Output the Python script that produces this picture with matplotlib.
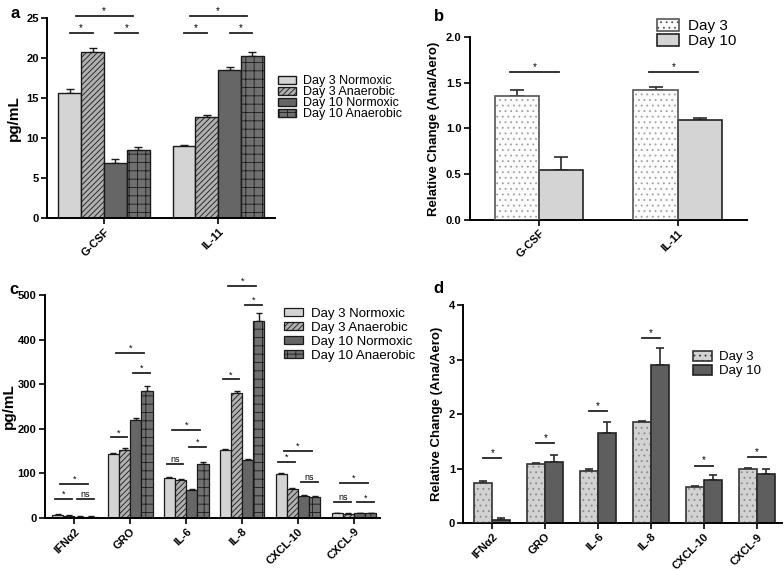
import numpy as np
import matplotlib
matplotlib.use('Agg')
import matplotlib.pyplot as plt

plt.rcParams['font.family'] = ['Liberation Sans', 'DejaVu Sans']
plt.rcParams['hatch.linewidth'] = 0.6
plt.rcParams['axes.linewidth'] = 1.4

# ---- data ----
groups_ab = ['G-CSF', 'IL-11']
conditions = ['Day 3 Normoxic', 'Day 3 Anaerobic', 'Day 10 Normoxic', 'Day 10 Anaerobic']
a_means = [[15.7, 9.0], [20.8, 12.7], [6.9, 18.5], [8.5, 20.3]]
a_errs = [[0.5, 0.15], [0.5, 0.15], [0.5, 0.4], [0.35, 0.5]]
# (group, bar_a, bar_b, y, label)
a_sig = [(0, 0, 1, 23.1, '*'), (0, 2, 3, 23.1, '*'), (0, 0, 3, 25.3, '*'),
         (1, 0, 1, 23.1, '*'), (1, 2, 3, 23.1, '*'), (1, 0, 3, 25.3, '*')]

days = ['Day 3', 'Day 10']
b_means = [[1.36, 1.42], [0.55, 1.09]]
b_errs = [[0.06, 0.03], [0.14, 0.03]]
b_sig = [(0, 1.62, '*'), (1, 1.62, '*')]

groups_cd = ['IFN\u03b12', 'GRO', 'IL-6', 'IL-8', 'CXCL-10', 'CXCL-9']
c_means = [[7, 143, 90, 152, 98, 10],
           [5, 153, 85, 281, 65, 9],
           [3, 219, 63, 130, 50, 10],
           [3, 285, 121, 442, 47, 10]]
c_errs = [[1, 2, 2, 2, 2, 1],
          [1, 3, 2, 5, 2, 1],
          [0.5, 5, 2, 3, 2, 1],
          [0.5, 12, 5, 18, 2, 1]]
c_sig = [(0, 0, 1, 42, '*'), (0, 2, 3, 42, 'ns'), (0, 0, 3, 76, '*'),
         (1, 0, 1, 181, '*'), (1, 2, 3, 326, '*'), (1, 0, 3, 371, '*'),
         (2, 0, 1, 120, 'ns'), (2, 2, 3, 160, '*'), (2, 0, 3, 197, '*'),
         (3, 0, 1, 311, '*'), (3, 2, 3, 479, '*'), (3, 0, 3, 521, '*'),
         (4, 0, 1, 125, '*'), (4, 2, 3, 81, 'ns'), (4, 0, 3, 151, '*'),
         (5, 0, 1, 35, 'ns'), (5, 2, 3, 35, '*'), (5, 0, 3, 79, '*')]

d_means = [[0.74, 1.09, 0.96, 1.86, 0.67, 1.00],
           [0.06, 1.13, 1.66, 2.90, 0.80, 0.91]]
d_errs = [[0.03, 0.02, 0.03, 0.02, 0.02, 0.01],
          [0.04, 0.13, 0.20, 0.31, 0.08, 0.09]]
d_sig = [(0, 1.20, '*'), (1, 1.48, '*'), (2, 2.06, '*'),
         (3, 3.40, '*'), (4, 1.06, '*'), (5, 1.22, '*')]

# ---- styles ----
four_styles = [dict(color='#d4d4d4', hatch=None),
               dict(color='#b0b0b0', hatch='//////'),
               dict(color='#666666', hatch=None),
               dict(color='#707070', hatch='++')]
# fill, hatch, hatch colour, outline
b_styles = [dict(color='#fcfcfc', hatch='...', dots='#a0a0a0', edge='#555555'),
            dict(color='#d4d4d4', hatch=None, dots=None, edge='#222222')]
d_styles = [dict(color='#d2d2d2', hatch='...', dots='#8a8a8a', edge='#333333'),
            dict(color='#5e5e5e', hatch=None, dots=None, edge='#222222')]


def style_axis(ax, labels, ylabel, ylim, yticks, fmt='{:g}', pad=4):
    ax.spines['top'].set_visible(False)
    ax.spines['right'].set_visible(False)
    ax.set_xticks(np.arange(len(labels)))
    ax.set_xticklabels(labels, rotation=45, ha='right', rotation_mode='anchor',
                       fontsize=8, fontweight='bold')
    ax.set_ylim(*ylim)
    ax.set_yticks(yticks)
    ax.set_yticklabels([fmt.format(t) for t in yticks], fontsize=8, fontweight='bold')
    ax.tick_params(axis='both', width=1.2, length=4, direction='out', pad=2)
    ax.set_ylabel(ylabel, fontweight='bold', labelpad=pad)


def sig_line(ax, x0, x1, y, text, fs=7):
    ax.plot([x0, x1], [y, y], color='#222222', lw=1.3, clip_on=False)
    ax.text((x0 + x1) / 2, y, text, ha='center', va='bottom', fontsize=fs,
            clip_on=False)


def two_bars(ax, xs, means, errs, w, styles, capsize):
    n = len(xs)
    for i in range(2):
        pos = xs + (i - 0.5) * w
        st = styles[i]
        if st['hatch']:
            # dotted fill drawn first, outline on top
            ax.bar(pos, means[i], w, color=st['color'], hatch=st['hatch'],
                   edgecolor=st['dots'], linewidth=0, zorder=2)
            ax.bar(pos, means[i], w, fill=False, edgecolor=st['edge'],
                   linewidth=1.2, zorder=3)
            # proxy for legend
            ax.bar([np.nan], [np.nan], w, color=st['color'], hatch=st['hatch'],
                   edgecolor=st['edge'], linewidth=1.2, label=days[i])
        else:
            ax.bar(pos, means[i], w, color=st['color'], edgecolor=st['edge'],
                   linewidth=1.2, label=days[i], zorder=2)
        ax.errorbar(pos, means[i], yerr=[np.zeros(n), errs[i]], fmt='none',
                    ecolor='#2a2a2a', elinewidth=1.2, capsize=capsize,
                    capthick=1.2, zorder=1)


fig = plt.figure(figsize=(7.84, 5.71), dpi=100)

# ---- panel a ----
ax = fig.add_axes([0.060, 0.618, 0.291, 0.350])
x = np.arange(len(groups_ab))
w = 0.2
for i in range(4):
    pos = x + (i - 1.5) * w
    st = four_styles[i]
    ax.bar(pos, a_means[i], w, color=st['color'], hatch=st['hatch'],
           edgecolor='#1a1a1a', linewidth=1.0, label=conditions[i], zorder=2)
    ax.errorbar(pos, a_means[i], yerr=[np.zeros(2), a_errs[i]], fmt='none',
                ecolor='#1a1a1a', elinewidth=1.0, capsize=3, capthick=1.0, zorder=1)
for g, i0, i1, y, t in a_sig:
    x0 = g + (i0 - 1.5) * w
    x1 = g + (i1 - 1.5) * w
    if i1 - i0 > 1:
        x0 += 0.05
        x1 -= 0.05
    sig_line(ax, x0, x1, y, t)
ax.set_xlim(-0.5, 1.5)
style_axis(ax, groups_ab, 'pg/mL', (0, 25), [0, 5, 10, 15, 20, 25])
ax.yaxis.label.set_size(11)
ax.legend(loc='upper left', bbox_to_anchor=(0.995, 0.735), frameon=False,
          fontsize=9, handlelength=1.45, handleheight=0.6, labelspacing=-0.07,
          borderaxespad=0, borderpad=0.3, handletextpad=0.6)

# ---- panel b ----
ax = fig.add_axes([0.599, 0.615, 0.354, 0.320])
w = 0.32
two_bars(ax, x, b_means, b_errs, w, b_styles, 5)
for g, y, t in b_sig:
    sig_line(ax, g - 0.65 * w, g + 0.45 * w, y, t)
ax.set_xlim(-0.5, 1.5)
style_axis(ax, groups_ab, 'Relative Change (Ana/Aero)', (0, 2.0),
           [0.0, 0.5, 1.0, 1.5, 2.0], fmt='{:.1f}')
ax.yaxis.label.set_size(9.5)
ax.legend(loc='upper left', bbox_to_anchor=(0.66, 1.125), frameon=False,
          fontsize=11, handlelength=1.4, handleheight=0.85, labelspacing=0.05,
          borderaxespad=0, borderpad=0.3, handletextpad=0.6)

# ---- panel c ----
ax = fig.add_axes([0.057, 0.093, 0.428, 0.390])
xc = np.arange(len(groups_cd))
w = 0.2
for i in range(4):
    pos = xc + (i - 1.5) * w
    st = four_styles[i]
    ax.bar(pos, c_means[i], w, color=st['color'], hatch=st['hatch'],
           edgecolor='#1a1a1a', linewidth=0.9, label=conditions[i], zorder=2)
    ax.errorbar(pos, c_means[i], yerr=[np.zeros(6), c_errs[i]], fmt='none',
                ecolor='#1a1a1a', elinewidth=1.0, capsize=2, capthick=1.0, zorder=1)
for g, i0, i1, y, t in c_sig:
    x0 = g + (i0 - 1.5) * w - 0.05
    x1 = g + (i1 - 1.5) * w + 0.05
    if i1 - i0 > 1:
        x0 += 0.1
        x1 -= 0.1
    sig_line(ax, x0, x1, y, t, fs=6.5)
ax.set_xlim(-0.53, 5.47)
style_axis(ax, groups_cd, 'pg/mL', (0, 500), [0, 100, 200, 300, 400, 500], pad=1)
ax.yaxis.label.set_size(11)
ax.legend(loc='upper left', bbox_to_anchor=(0.70, 0.96), frameon=False,
          fontsize=9.5, handlelength=1.45, handleheight=0.55, labelspacing=0.15,
          borderaxespad=0, borderpad=0.3, handletextpad=0.6)

# ---- panel d ----
ax = fig.add_axes([0.591, 0.0835, 0.406, 0.382])
w = 0.34
two_bars(ax, xc, d_means, d_errs, w, d_styles, 3)
for g, y, t in d_sig:
    sig_line(ax, g - 0.5 * w, g + 0.5 * w, y, t)
ax.set_xlim(-0.55, 5.47)
style_axis(ax, groups_cd, 'Relative Change (Ana/Aero)', (0, 4), [0, 1, 2, 3, 4])
ax.yaxis.label.set_size(9.5)
ax.legend(loc='upper left', bbox_to_anchor=(0.71, 0.81), frameon=False,
          fontsize=9.5, handlelength=1.45, handleheight=0.8, labelspacing=0.1,
          borderaxespad=0, borderpad=0.3, handletextpad=0.5)

# panel letters
for lbl, xx, yy in [('a', 0.014, 0.99), ('b', 0.553, 0.985),
                    ('c', 0.012, 0.507), ('d', 0.553, 0.508)]:
    fig.text(xx, yy, lbl, fontsize=12, fontweight='bold', va='top')

fig.savefig('out.png', dpi=100)
